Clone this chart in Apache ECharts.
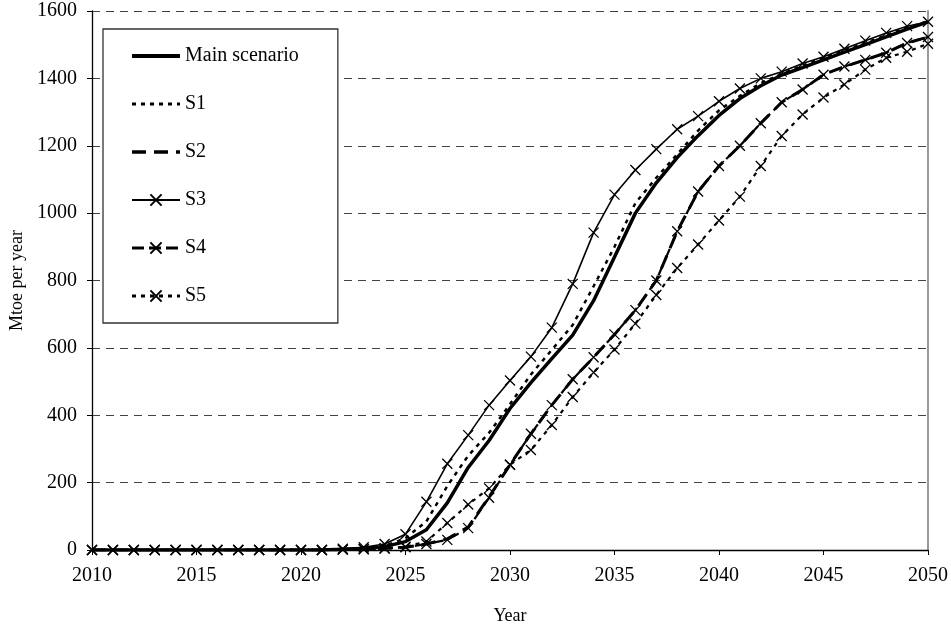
<!DOCTYPE html>
<html>
<head>
<meta charset="utf-8">
<script src="https://cdn.jsdelivr.net/npm/echarts@6/dist/echarts.min.js"></script>
<style>html,body{margin:0;padding:0;background:#fff}#c{width:951px;height:630px}</style>
</head>
<body>
<div id="c"></div>
<script>
var years = [];
for (var y = 2010; y <= 2050; y++) years.push(y);
var zeros12 = [0,0,0,0,0,0,0,0,0,0,0,0];
var mainScenario = zeros12.concat([2,4,10,25,60,140,245,325,420,497,568,638,740,870,1000,1090,1165,1230,1290,1340,1378,1410,1432,1455,1478,1500,1523,1546,1568]);
var s1 = zeros12.concat([2,5,12,35,85,190,280,348,433,521,594,668,783,900,1030,1105,1175,1245,1305,1348,1386,1413,1438,1460,1483,1505,1528,1550,1570]);
var s2 = zeros12.concat([1,3,5,8,18,33,68,158,253,345,430,507,572,640,712,800,946,1064,1140,1200,1267,1329,1367,1411,1435,1455,1476,1505,1523]);
var s3 = zeros12.concat([4,8,18,47,143,256,341,430,503,574,660,790,942,1055,1128,1190,1249,1288,1332,1370,1400,1420,1444,1464,1488,1512,1535,1555,1568]);
var s4 = zeros12.concat([1,3,5,8,18,30,65,155,253,345,430,507,572,640,712,800,946,1064,1140,1200,1267,1329,1367,1411,1435,1455,1476,1505,1523]);
var s5 = zeros12.concat([1,2,4,10,25,80,135,183,253,297,371,454,527,595,672,757,837,907,978,1049,1140,1229,1293,1343,1382,1426,1461,1479,1503]);
var seriesNames = ['Main scenario','S1','S2','S3','S4','S5'];
var yTicks = [0,200,400,600,800,1000,1200,1400,1600];

function pairs(arr){ return years.map(function(yr,i){ return [yr, arr[i]]; }); }
var FONT = 'Liberation Serif';
var X = 'path://M0 0L10 10M10 0L0 10';
var styles = {
  'Main scenario': {w: 3.5, lw: 4, dash: 'solid', marker: false},
  'S1': {w: 2.5, lw: 3, dash: [4, 5], marker: false},
  'S2': {w: 3, lw: 3.5, dash: [14, 8], marker: false},
  'S3': {w: 1.6, lw: 2, dash: 'solid', marker: true},
  'S4': {w: 2.2, lw: 3, dash: [12, 5], marker: true},
  'S5': {w: 2.2, lw: 3, dash: [4, 5], marker: true}
};
function mk(name, data){
  var s = styles[name];
  return {
    name: name, type: 'line', data: pairs(data),
    symbol: s.marker ? X : 'none', symbolSize: 10,
    showSymbol: s.marker,
    lineStyle: {color:'#000', width: s.w, type: s.dash},
    itemStyle: {color:'rgba(0,0,0,0)', borderColor: s.marker ? '#000' : 'rgba(0,0,0,0)', borderWidth: s.marker ? 1.3 : 0},
    emphasis: {disabled: true},
    z: 3
  };
}
var chart = echarts.init(document.getElementById('c'));
chart.setOption({
  animation: false,
  backgroundColor: '#fff',
  textStyle: {fontFamily: FONT, color: '#000'},
  grid: {left: 88, right: 21, top: 11, bottom: 76, containLabel: false},
  legend: {
    data: seriesNames.map(function(n){
      var s = styles[n];
      return {name: n, lineStyle: {color: '#000', width: s.lw, type: s.dash}};
    }),
    orient: 'vertical', left: 103, top: 29,
    itemWidth: 48, itemHeight: 14, itemGap: 28,
    padding: [17, 39, 17, 27],
    backgroundColor: '#fff', borderColor: '#333', borderWidth: 1.3,
    textStyle: {fontFamily: FONT, fontSize: 20, color: '#000'},
    z: 10
  },
  xAxis: {
    type: 'value', min: 2010, max: 2050, interval: 5,
    name: 'Year', nameLocation: 'middle', nameGap: 57,
    nameTextStyle: {fontFamily: FONT, fontSize: 18, color: '#000'},
    axisLine: {lineStyle: {color: '#000', width: 1.3}},
    axisTick: {show: true, length: 5, lineStyle: {color: '#000'}},
    axisLabel: {fontFamily: FONT, fontSize: 20, color: '#000', margin: 16,
      formatter: function(v){ return String(v); }},
    splitLine: {show: false}
  },
  yAxis: [{
    type: 'value', min: 0, max: 1600, interval: 200,
    name: 'Mtoe per year', nameLocation: 'middle', nameGap: 66,
    nameTextStyle: {fontFamily: FONT, fontSize: 18, color: '#000'},
    axisLine: {show: true, lineStyle: {color: '#000', width: 1.3}},
    axisTick: {show: true, length: 5, lineStyle: {color: '#000'}},
    axisLabel: {fontFamily: FONT, fontSize: 20, color: '#000', margin: 15,
      formatter: function(v){ return yTicks.indexOf(v) >= 0 ? String(v) : ''; }},
    splitLine: {show: true, lineStyle: {color: '#444', width: 1.2, type: [8, 6]}}
  }, {
    type: 'value', min: 0, max: 1600, interval: 200, position: 'right',
    axisLine: {show: true, lineStyle: {color: '#999', width: 2}},
    axisTick: {show: false}, axisLabel: {show: false}, splitLine: {show: false}
  }],
  series: seriesNames.map(function(n, i){
    return mk(n, [mainScenario, s1, s2, s3, s4, s5][i]);
  })
});
</script>
</body>
</html>
